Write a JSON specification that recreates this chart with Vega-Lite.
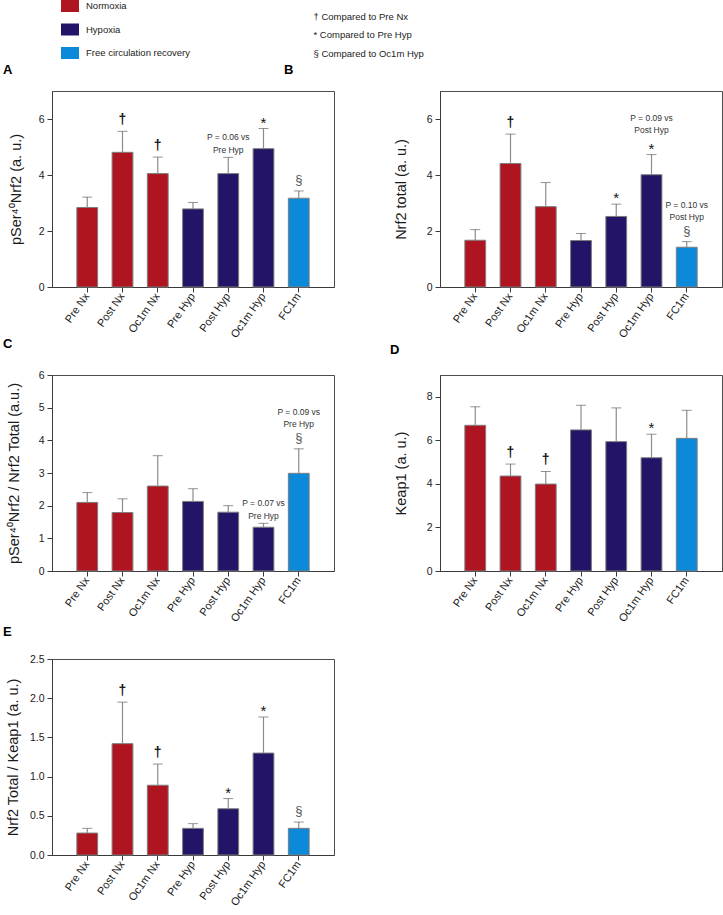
{
  "$schema": "https://vega.github.io/schema/vega-lite/v6.json",
  "padding": {"left": 2, "top": 0, "right": 0, "bottom": 0},
  "bounds": "flush",
  "columns": 2,
  "spacing": {"row": 88, "column": 106},
  "config": {
    "font": "Liberation Sans",
    "view": {"stroke": "#4d4d4d", "strokeWidth": 1},
    "axis": {"grid": false, "domainColor": "#3a3a3a", "tickColor": "#3a3a3a", "labelColor": "#1a1a1a", "titleColor": "#1a1a1a", "labelFontSize": 10.5, "titleFontSize": 14.5, "titleFontWeight": "normal", "tickSize": 5, "labelPadding": 3, "labelOverlap": false},
    "axisX": {"labelAngle": -55, "labelFontSize": 11, "labelPadding": 2, "title": null},
    "title": {"fontSize": 13, "fontWeight": "bold", "anchor": "start", "frame": "group", "color": "#000"}
  },
  "datasets": {
    "d": [
      {"panel": "A", "cond": "Pre Nx", "group": "Normoxia", "mean": 2.84, "upper": 3.21, "sig": "", "p": ""},
      {"panel": "A", "cond": "Post Nx", "group": "Normoxia", "mean": 4.81, "upper": 5.56, "sig": "†", "p": ""},
      {"panel": "A", "cond": "Oc1m Nx", "group": "Normoxia", "mean": 4.05, "upper": 4.64, "sig": "†", "p": ""},
      {"panel": "A", "cond": "Pre Hyp", "group": "Hypoxia", "mean": 2.79, "upper": 3.02, "sig": "", "p": ""},
      {"panel": "A", "cond": "Post Hyp", "group": "Hypoxia", "mean": 4.05, "upper": 4.63, "sig": "", "p": "P = 0.06 vs\nPre Hyp"},
      {"panel": "A", "cond": "Oc1m Hyp", "group": "Hypoxia", "mean": 4.94, "upper": 5.66, "sig": "*", "p": ""},
      {"panel": "A", "cond": "FC1m", "group": "Free circulation recovery", "mean": 3.17, "upper": 3.43, "sig": "§", "p": ""},

      {"panel": "B", "cond": "Pre Nx", "group": "Normoxia", "mean": 1.67, "upper": 2.05, "sig": "", "p": ""},
      {"panel": "B", "cond": "Post Nx", "group": "Normoxia", "mean": 4.41, "upper": 5.46, "sig": "†", "p": ""},
      {"panel": "B", "cond": "Oc1m Nx", "group": "Normoxia", "mean": 2.87, "upper": 3.73, "sig": "", "p": ""},
      {"panel": "B", "cond": "Pre Hyp", "group": "Hypoxia", "mean": 1.66, "upper": 1.91, "sig": "", "p": ""},
      {"panel": "B", "cond": "Post Hyp", "group": "Hypoxia", "mean": 2.52, "upper": 2.96, "sig": "*", "p": ""},
      {"panel": "B", "cond": "Oc1m Hyp", "group": "Hypoxia", "mean": 4.01, "upper": 4.73, "sig": "*", "p": "P = 0.09 vs\nPost Hyp"},
      {"panel": "B", "cond": "FC1m", "group": "Free circulation recovery", "mean": 1.42, "upper": 1.62, "sig": "§", "p": "P = 0.10 vs\nPost Hyp"},

      {"panel": "C", "cond": "Pre Nx", "group": "Normoxia", "mean": 2.10, "upper": 2.40, "sig": "", "p": ""},
      {"panel": "C", "cond": "Post Nx", "group": "Normoxia", "mean": 1.79, "upper": 2.21, "sig": "", "p": ""},
      {"panel": "C", "cond": "Oc1m Nx", "group": "Normoxia", "mean": 2.60, "upper": 3.53, "sig": "", "p": ""},
      {"panel": "C", "cond": "Pre Hyp", "group": "Hypoxia", "mean": 2.13, "upper": 2.52, "sig": "", "p": ""},
      {"panel": "C", "cond": "Post Hyp", "group": "Hypoxia", "mean": 1.80, "upper": 2.00, "sig": "", "p": ""},
      {"panel": "C", "cond": "Oc1m Hyp", "group": "Hypoxia", "mean": 1.34, "upper": 1.46, "sig": "", "p": "P = 0.07 vs\nPre Hyp"},
      {"panel": "C", "cond": "FC1m", "group": "Free circulation recovery", "mean": 2.99, "upper": 3.74, "sig": "§", "p": "P = 0.09 vs\nPre Hyp"},

      {"panel": "D", "cond": "Pre Nx", "group": "Normoxia", "mean": 6.69, "upper": 7.54, "sig": "", "p": ""},
      {"panel": "D", "cond": "Post Nx", "group": "Normoxia", "mean": 4.36, "upper": 4.91, "sig": "†", "p": ""},
      {"panel": "D", "cond": "Oc1m Nx", "group": "Normoxia", "mean": 3.99, "upper": 4.57, "sig": "†", "p": ""},
      {"panel": "D", "cond": "Pre Hyp", "group": "Hypoxia", "mean": 6.48, "upper": 7.61, "sig": "", "p": ""},
      {"panel": "D", "cond": "Post Hyp", "group": "Hypoxia", "mean": 5.94, "upper": 7.49, "sig": "", "p": ""},
      {"panel": "D", "cond": "Oc1m Hyp", "group": "Hypoxia", "mean": 5.20, "upper": 6.28, "sig": "*", "p": ""},
      {"panel": "D", "cond": "FC1m", "group": "Free circulation recovery", "mean": 6.09, "upper": 7.38, "sig": "", "p": ""},

      {"panel": "E", "cond": "Pre Nx", "group": "Normoxia", "mean": 0.28, "upper": 0.34, "sig": "", "p": ""},
      {"panel": "E", "cond": "Post Nx", "group": "Normoxia", "mean": 1.42, "upper": 1.95, "sig": "†", "p": ""},
      {"panel": "E", "cond": "Oc1m Nx", "group": "Normoxia", "mean": 0.89, "upper": 1.16, "sig": "†", "p": ""},
      {"panel": "E", "cond": "Pre Hyp", "group": "Hypoxia", "mean": 0.34, "upper": 0.40, "sig": "", "p": ""},
      {"panel": "E", "cond": "Post Hyp", "group": "Hypoxia", "mean": 0.59, "upper": 0.72, "sig": "*", "p": ""},
      {"panel": "E", "cond": "Oc1m Hyp", "group": "Hypoxia", "mean": 1.30, "upper": 1.76, "sig": "*", "p": ""},
      {"panel": "E", "cond": "FC1m", "group": "Free circulation recovery", "mean": 0.34, "upper": 0.42, "sig": "§", "p": ""}
    ]
  },
  "concat": [
    {
      "width": 282, "height": 196,
      "title": {"text": "A", "dx": -49, "offset": 14},
      "data": {"name": "d"},
      "transform": [{"filter": "datum.panel === 'A'"}],
      "encoding": {"x": {"field": "cond", "type": "nominal", "sort": ["Pre Nx", "Post Nx", "Oc1m Nx", "Pre Hyp", "Post Hyp", "Oc1m Hyp", "FC1m"], "scale": {"paddingInner": 0.41, "paddingOuter": 0.705}}},
      "layer": [
        {"mark": {"type": "bar", "stroke": "#7d7d7d", "strokeWidth": 1},
         "encoding": {
           "y": {"field": "mean", "type": "quantitative", "scale": {"domain": [0, 7], "nice": false}, "axis": {"title": "pSer⁴⁰Nrf2  (a. u.)", "values": [0, 2, 4, 6], "tickCount": 20, "format": "d", "labelOverlap": false, "titlePadding": 15}},
           "color": {"field": "group", "type": "nominal", "scale": {"domain": ["Normoxia", "Hypoxia", "Free circulation recovery"], "range": ["#AE1520", "#231467", "#0C89D9"]},
             "legend": {"title": null, "orient": "none", "legendX": 12, "legendY": -91, "direction": "vertical", "symbolType": "M-1.5,-1H1.5V1H-1.5Z", "symbolSize": 144, "symbolStrokeWidth": 0, "symbolOpacity": 1, "labelFontSize": 9.5, "labelColor": "#222", "labelOffset": 10, "rowPadding": 11.5, "padding": 0}}
         }},
        {"mark": {"type": "rule", "color": "#8c8c8c", "strokeWidth": 1.2}, "encoding": {"y": {"field": "mean", "type": "quantitative"}, "y2": {"field": "upper"}}},
        {"mark": {"type": "tick", "color": "#666", "thickness": 1, "size": 10}, "encoding": {"y": {"field": "upper", "type": "quantitative"}}},
        {"transform": [{"filter": "datum.sig === '†'"}], "mark": {"type": "text", "baseline": "middle", "dy": -11, "fontSize": 14, "fontWeight": "bold", "color": "#111"},
         "encoding": {"y": {"field": "upper", "type": "quantitative"}, "text": {"field": "sig", "type": "nominal"},
           "opacity": {"field": "sig", "type": "nominal", "scale": {"domain": ["†", "*", "§"], "range": [1, 1, 1]},
             "legend": {"title": null, "orient": "none", "legendX": 252, "legendY": -79, "direction": "vertical", "symbolSize": 0, "symbolStrokeWidth": 0, "labelOffset": 0, "rowPadding": 7.5, "padding": 0, "labelFontSize": 9.5, "labelColor": "#222",
               "labelExpr": "datum.label === '†' ? '† Compared to Pre Nx' : datum.label === '*' ? '* Compared to Pre Hyp' : '§ Compared to Oc1m Hyp'"}}}},
        {"transform": [{"filter": "datum.sig === '*'"}], "mark": {"type": "text", "baseline": "middle", "dy": -6, "fontSize": 15, "color": "#111"},
         "encoding": {"y": {"field": "upper", "type": "quantitative"}, "text": {"field": "sig", "type": "nominal"}, "opacity": {"field": "sig", "type": "nominal"}}},
        {"transform": [{"filter": "datum.sig === '§'"}], "mark": {"type": "text", "baseline": "middle", "dy": -11, "fontSize": 13, "color": "#555"},
         "encoding": {"y": {"field": "upper", "type": "quantitative"}, "text": {"field": "sig", "type": "nominal"}, "opacity": {"field": "sig", "type": "nominal"}}},
        {"transform": [{"filter": "datum.p !== '' && datum.sig === ''"}], "mark": {"type": "text", "baseline": "bottom", "dy": -15, "fontSize": 8.5, "lineHeight": 12.5, "lineBreak": "\n", "color": "#333"},
         "encoding": {"y": {"field": "upper", "type": "quantitative"}, "text": {"field": "p", "type": "nominal"}}},
        {"transform": [{"filter": "datum.p !== '' && datum.sig !== ''"}], "mark": {"type": "text", "baseline": "bottom", "dy": -32, "fontSize": 8.5, "lineHeight": 12.5, "lineBreak": "\n", "color": "#333"},
         "encoding": {"y": {"field": "upper", "type": "quantitative"}, "text": {"field": "p", "type": "nominal"}}}
      ]
    },
    {
      "width": 282, "height": 196,
      "title": {"text": "B", "dx": -156, "offset": 14},
      "data": {"name": "d"},
      "transform": [{"filter": "datum.panel === 'B'"}],
      "encoding": {"x": {"field": "cond", "type": "nominal", "sort": ["Pre Nx", "Post Nx", "Oc1m Nx", "Pre Hyp", "Post Hyp", "Oc1m Hyp", "FC1m"], "scale": {"paddingInner": 0.41, "paddingOuter": 0.705}}},
      "layer": [
        {"mark": {"type": "bar", "stroke": "#7d7d7d", "strokeWidth": 1},
         "encoding": {
           "y": {"field": "mean", "type": "quantitative", "scale": {"domain": [0, 7], "nice": false}, "axis": {"title": "Nrf2 total (a. u.)", "values": [0, 2, 4, 6], "tickCount": 20, "format": "d", "labelOverlap": false, "titlePadding": 18}},
           "color": {"field": "group", "type": "nominal"}
         }},
        {"mark": {"type": "rule", "color": "#8c8c8c", "strokeWidth": 1.2}, "encoding": {"y": {"field": "mean", "type": "quantitative"}, "y2": {"field": "upper"}}},
        {"mark": {"type": "tick", "color": "#666", "thickness": 1, "size": 10}, "encoding": {"y": {"field": "upper", "type": "quantitative"}}},
        {"transform": [{"filter": "datum.sig === '†'"}], "mark": {"type": "text", "baseline": "middle", "dy": -11, "fontSize": 14, "fontWeight": "bold", "color": "#111"},
         "encoding": {"y": {"field": "upper", "type": "quantitative"}, "text": {"field": "sig", "type": "nominal"}, "opacity": {"field": "sig", "type": "nominal"}}},
        {"transform": [{"filter": "datum.sig === '*'"}], "mark": {"type": "text", "baseline": "middle", "dy": -6, "fontSize": 15, "color": "#111"},
         "encoding": {"y": {"field": "upper", "type": "quantitative"}, "text": {"field": "sig", "type": "nominal"}, "opacity": {"field": "sig", "type": "nominal"}}},
        {"transform": [{"filter": "datum.sig === '§'"}], "mark": {"type": "text", "baseline": "middle", "dy": -11, "fontSize": 13, "color": "#555"},
         "encoding": {"y": {"field": "upper", "type": "quantitative"}, "text": {"field": "sig", "type": "nominal"}, "opacity": {"field": "sig", "type": "nominal"}}},
        {"transform": [{"filter": "datum.p !== '' && datum.sig === ''"}], "mark": {"type": "text", "baseline": "bottom", "dy": -15, "fontSize": 8.5, "lineHeight": 12.5, "lineBreak": "\n", "color": "#333"},
         "encoding": {"y": {"field": "upper", "type": "quantitative"}, "text": {"field": "p", "type": "nominal"}}},
        {"transform": [{"filter": "datum.p !== '' && datum.sig !== ''"}], "mark": {"type": "text", "baseline": "bottom", "dy": -32, "fontSize": 8.5, "lineHeight": 12.5, "lineBreak": "\n", "color": "#333"},
         "encoding": {"y": {"field": "upper", "type": "quantitative"}, "text": {"field": "p", "type": "nominal"}}}
      ]
    },
    {
      "width": 282, "height": 196,
      "title": {"text": "C", "dx": -49, "offset": 19},
      "data": {"name": "d"},
      "transform": [{"filter": "datum.panel === 'C'"}],
      "encoding": {"x": {"field": "cond", "type": "nominal", "sort": ["Pre Nx", "Post Nx", "Oc1m Nx", "Pre Hyp", "Post Hyp", "Oc1m Hyp", "FC1m"], "scale": {"paddingInner": 0.41, "paddingOuter": 0.705}}},
      "layer": [
        {"mark": {"type": "bar", "stroke": "#7d7d7d", "strokeWidth": 1},
         "encoding": {
           "y": {"field": "mean", "type": "quantitative", "scale": {"domain": [0, 6], "nice": false}, "axis": {"title": "pSer⁴⁰Nrf2 / Nrf2 Total (a.u.)", "values": [0, 1, 2, 3, 4, 5, 6], "tickCount": 20, "format": "d", "labelOverlap": false, "titlePadding": 17}},
           "color": {"field": "group", "type": "nominal"}
         }},
        {"mark": {"type": "rule", "color": "#8c8c8c", "strokeWidth": 1.2}, "encoding": {"y": {"field": "mean", "type": "quantitative"}, "y2": {"field": "upper"}}},
        {"mark": {"type": "tick", "color": "#666", "thickness": 1, "size": 10}, "encoding": {"y": {"field": "upper", "type": "quantitative"}}},
        {"transform": [{"filter": "datum.sig === '†'"}], "mark": {"type": "text", "baseline": "middle", "dy": -11, "fontSize": 14, "fontWeight": "bold", "color": "#111"},
         "encoding": {"y": {"field": "upper", "type": "quantitative"}, "text": {"field": "sig", "type": "nominal"}, "opacity": {"field": "sig", "type": "nominal"}}},
        {"transform": [{"filter": "datum.sig === '*'"}], "mark": {"type": "text", "baseline": "middle", "dy": -6, "fontSize": 15, "color": "#111"},
         "encoding": {"y": {"field": "upper", "type": "quantitative"}, "text": {"field": "sig", "type": "nominal"}, "opacity": {"field": "sig", "type": "nominal"}}},
        {"transform": [{"filter": "datum.sig === '§'"}], "mark": {"type": "text", "baseline": "middle", "dy": -11, "fontSize": 13, "color": "#555"},
         "encoding": {"y": {"field": "upper", "type": "quantitative"}, "text": {"field": "sig", "type": "nominal"}, "opacity": {"field": "sig", "type": "nominal"}}},
        {"transform": [{"filter": "datum.p !== '' && datum.sig === ''"}], "mark": {"type": "text", "baseline": "bottom", "dy": -15, "fontSize": 8.5, "lineHeight": 12.5, "lineBreak": "\n", "color": "#333"},
         "encoding": {"y": {"field": "upper", "type": "quantitative"}, "text": {"field": "p", "type": "nominal"}}},
        {"transform": [{"filter": "datum.p !== '' && datum.sig !== ''"}], "mark": {"type": "text", "baseline": "bottom", "dy": -32, "fontSize": 8.5, "lineHeight": 12.5, "lineBreak": "\n", "color": "#333"},
         "encoding": {"y": {"field": "upper", "type": "quantitative"}, "text": {"field": "p", "type": "nominal"}}}
      ]
    },
    {
      "width": 282, "height": 196,
      "title": {"text": "D", "dx": -50, "offset": 18},
      "data": {"name": "d"},
      "transform": [{"filter": "datum.panel === 'D'"}],
      "encoding": {"x": {"field": "cond", "type": "nominal", "sort": ["Pre Nx", "Post Nx", "Oc1m Nx", "Pre Hyp", "Post Hyp", "Oc1m Hyp", "FC1m"], "scale": {"paddingInner": 0.41, "paddingOuter": 0.705}}},
      "layer": [
        {"mark": {"type": "bar", "stroke": "#7d7d7d", "strokeWidth": 1},
         "encoding": {
           "y": {"field": "mean", "type": "quantitative", "scale": {"domain": [0, 9], "nice": false}, "axis": {"title": "Keap1 (a. u.)", "values": [0, 2, 4, 6, 8], "tickCount": 20, "format": "d", "labelOverlap": false, "titlePadding": 18}},
           "color": {"field": "group", "type": "nominal"}
         }},
        {"mark": {"type": "rule", "color": "#8c8c8c", "strokeWidth": 1.2}, "encoding": {"y": {"field": "mean", "type": "quantitative"}, "y2": {"field": "upper"}}},
        {"mark": {"type": "tick", "color": "#666", "thickness": 1, "size": 10}, "encoding": {"y": {"field": "upper", "type": "quantitative"}}},
        {"transform": [{"filter": "datum.sig === '†'"}], "mark": {"type": "text", "baseline": "middle", "dy": -11, "fontSize": 14, "fontWeight": "bold", "color": "#111"},
         "encoding": {"y": {"field": "upper", "type": "quantitative"}, "text": {"field": "sig", "type": "nominal"}, "opacity": {"field": "sig", "type": "nominal"}}},
        {"transform": [{"filter": "datum.sig === '*'"}], "mark": {"type": "text", "baseline": "middle", "dy": -6, "fontSize": 15, "color": "#111"},
         "encoding": {"y": {"field": "upper", "type": "quantitative"}, "text": {"field": "sig", "type": "nominal"}, "opacity": {"field": "sig", "type": "nominal"}}},
        {"transform": [{"filter": "datum.sig === '§'"}], "mark": {"type": "text", "baseline": "middle", "dy": -11, "fontSize": 13, "color": "#555"},
         "encoding": {"y": {"field": "upper", "type": "quantitative"}, "text": {"field": "sig", "type": "nominal"}, "opacity": {"field": "sig", "type": "nominal"}}}
      ]
    },
    {
      "width": 282, "height": 196,
      "title": {"text": "E", "dx": -49, "offset": 15},
      "data": {"name": "d"},
      "transform": [{"filter": "datum.panel === 'E'"}],
      "encoding": {"x": {"field": "cond", "type": "nominal", "sort": ["Pre Nx", "Post Nx", "Oc1m Nx", "Pre Hyp", "Post Hyp", "Oc1m Hyp", "FC1m"], "scale": {"paddingInner": 0.41, "paddingOuter": 0.705}}},
      "layer": [
        {"mark": {"type": "bar", "stroke": "#7d7d7d", "strokeWidth": 1},
         "encoding": {
           "y": {"field": "mean", "type": "quantitative", "scale": {"domain": [0, 2.5], "nice": false}, "axis": {"title": "Nrf2 Total / Keap1 (a. u.)", "values": [0, 0.5, 1, 1.5, 2, 2.5], "tickCount": 20, "format": ".1f", "labelOverlap": false, "titlePadding": 9}},
           "color": {"field": "group", "type": "nominal"}
         }},
        {"mark": {"type": "rule", "color": "#8c8c8c", "strokeWidth": 1.2}, "encoding": {"y": {"field": "mean", "type": "quantitative"}, "y2": {"field": "upper"}}},
        {"mark": {"type": "tick", "color": "#666", "thickness": 1, "size": 10}, "encoding": {"y": {"field": "upper", "type": "quantitative"}}},
        {"transform": [{"filter": "datum.sig === '†'"}], "mark": {"type": "text", "baseline": "middle", "dy": -11, "fontSize": 14, "fontWeight": "bold", "color": "#111"},
         "encoding": {"y": {"field": "upper", "type": "quantitative"}, "text": {"field": "sig", "type": "nominal"}, "opacity": {"field": "sig", "type": "nominal"}}},
        {"transform": [{"filter": "datum.sig === '*'"}], "mark": {"type": "text", "baseline": "middle", "dy": -6, "fontSize": 15, "color": "#111"},
         "encoding": {"y": {"field": "upper", "type": "quantitative"}, "text": {"field": "sig", "type": "nominal"}, "opacity": {"field": "sig", "type": "nominal"}}},
        {"transform": [{"filter": "datum.sig === '§'"}], "mark": {"type": "text", "baseline": "middle", "dy": -11, "fontSize": 13, "color": "#555"},
         "encoding": {"y": {"field": "upper", "type": "quantitative"}, "text": {"field": "sig", "type": "nominal"}, "opacity": {"field": "sig", "type": "nominal"}}}
      ]
    }
  ]
}
